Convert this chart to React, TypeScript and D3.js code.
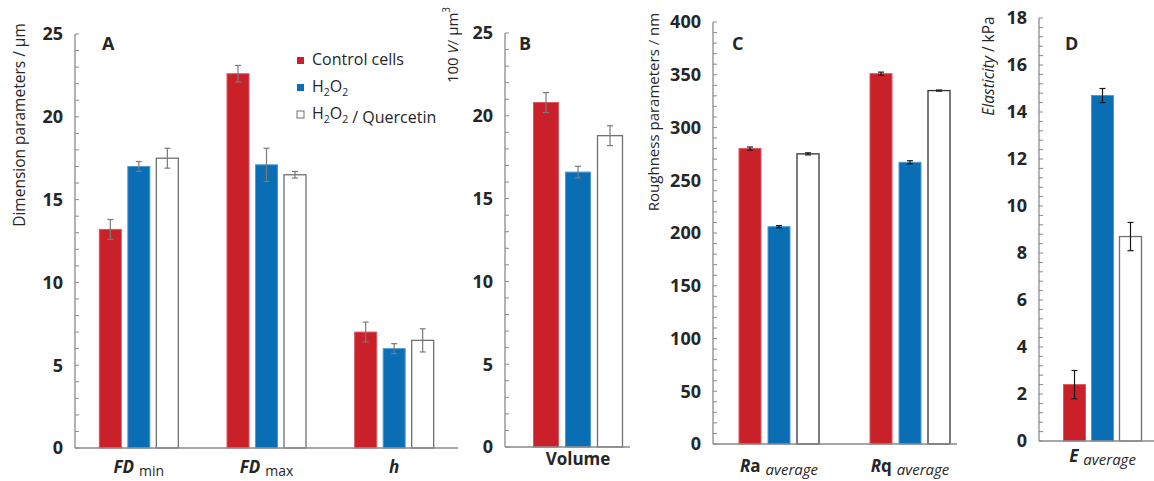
import * as d3 from 'd3';
import React from 'react';

// legend / series
const seriesNames = ['Control cells', 'H2O2', 'H2O2 / Quercetin'];

// A: dimension parameters (µm)
const dimensionCategories = ['FDmin', 'FDmax', 'h'];
const dimensionControl = [13.2, 22.6, 7.0];
const dimensionControlErr = [0.6, 0.5, 0.6];
const dimensionH2O2 = [17.0, 17.1, 6.0];
const dimensionH2O2Err = [0.3, 1.0, 0.3];
const dimensionQuercetin = [17.5, 16.5, 6.5];
const dimensionQuercetinErr = [0.6, 0.2, 0.7];
const dimensionTicks = [0, 5, 10, 15, 20, 25];

// B: volume (100 V / µm³)
const volumeCategories = ['Volume'];
const volumeControl = [20.8];
const volumeControlErr = [0.6];
const volumeH2O2 = [16.6];
const volumeH2O2Err = [0.35];
const volumeQuercetin = [18.8];
const volumeQuercetinErr = [0.6];
const volumeTicks = [0, 5, 10, 15, 20, 25];

// C: roughness parameters (nm)
const roughnessCategories = ['Ra', 'Rq'];
const roughnessControl = [280, 351];
const roughnessControlErr = [1.5, 1.5];
const roughnessH2O2 = [206, 267];
const roughnessH2O2Err = [1, 1.5];
const roughnessQuercetin = [275, 335];
const roughnessQuercetinErr = [1, 0.5];
const roughnessTicks = [0, 50, 100, 150, 200, 250, 300, 350, 400];

// D: elasticity (kPa)
const elasticityCategories = ['E'];
const elasticityControl = [2.4];
const elasticityControlErr = [0.6];
const elasticityH2O2 = [14.7];
const elasticityH2O2Err = [0.3];
const elasticityQuercetin = [8.7];
const elasticityQuercetinErr = [0.6];
const elasticityTicks = [0, 2, 4, 6, 8, 10, 12, 14, 16, 18];

const FONT = '"Open Sans", "DejaVu Sans", sans-serif';
const RED = '#c9202a';
const BLUE = '#0a6eb5';
const AXIS = '#8a8a8a';
const INK = '#262626';

const fills = [RED, BLUE, '#ffffff'];
const strokes = ['#d9575d', '#4f98cf', '#707070'];

type Panel = {
    categories: string[];
    values: number[][];
    errors: number[][];
    ticks: number[];
    axisX: number;
    axisEnd: number;
    yTop: number;
    yBottom: number;
    bandRange: [number, number];
    barW: number;
    gap: number;
    errColor: string;
    whiteStroke: string;
    letter: string;
    letterX: number;
    labelY: number;
    label: (cat: string) => React.ReactNode;
};

const subLabel = (main: string, sub: string, italicSub: boolean, mainItalicOnlyFirst = false) => (
    <>
        {mainItalicOnlyFirst ? (
            <>
                <tspan fontStyle="italic">{main[0]}</tspan>
                <tspan>{main.slice(1)}</tspan>
            </>
        ) : (
            <tspan fontStyle="italic">{main}</tspan>
        )}
        {sub && (
            <tspan
                dx={5}
                dy={3}
                fontSize={italicSub ? 15 : 14}
                fontWeight={400}
                fontStyle={italicSub ? 'italic' : 'normal'}
            >
                {sub}
            </tspan>
        )}
    </>
);

const panels: Panel[] = [
    {
        categories: dimensionCategories,
        values: [dimensionControl, dimensionH2O2, dimensionQuercetin],
        errors: [dimensionControlErr, dimensionH2O2Err, dimensionQuercetinErr],
        ticks: dimensionTicks,
        axisX: 75,
        axisEnd: 458,
        yTop: 34,
        yBottom: 448,
        bandRange: [75, 458],
        barW: 22,
        gap: 6.5,
        errColor: '#7a7a7a',
        whiteStroke: '#707070',
        letter: 'A',
        letterX: 102,
        labelY: 473,
        label: (c) =>
            c === 'FDmin'
                ? subLabel('FD', 'min', false)
                : c === 'FDmax'
                ? subLabel('FD', 'max', false)
                : subLabel('h', '', false),
    },
    {
        categories: volumeCategories,
        values: [volumeControl, volumeH2O2, volumeQuercetin],
        errors: [volumeControlErr, volumeH2O2Err, volumeQuercetinErr],
        ticks: volumeTicks,
        axisX: 505,
        axisEnd: 630,
        yTop: 33,
        yBottom: 447,
        bandRange: [505, 651],
        barW: 25,
        gap: 7,
        errColor: '#7a7a7a',
        whiteStroke: '#707070',
        letter: 'B',
        letterX: 519,
        labelY: 465,
        label: (c) => <tspan>{c}</tspan>,
    },
    {
        categories: roughnessCategories,
        values: [roughnessControl, roughnessH2O2, roughnessQuercetin],
        errors: [roughnessControlErr, roughnessH2O2Err, roughnessQuercetinErr],
        ticks: roughnessTicks,
        axisX: 713,
        axisEnd: 957,
        yTop: 22,
        yBottom: 444,
        bandRange: [713.5, 975.5],
        barW: 22,
        gap: 7,
        errColor: '#1a1a1a',
        whiteStroke: '#333333',
        letter: 'C',
        letterX: 732,
        labelY: 472,
        label: (c) => subLabel(c, 'average', true, true),
    },
    {
        categories: elasticityCategories,
        values: [elasticityControl, elasticityH2O2, elasticityQuercetin],
        errors: [elasticityControlErr, elasticityH2O2Err, elasticityQuercetinErr],
        ticks: elasticityTicks,
        axisX: 1039,
        axisEnd: 1154,
        yTop: 18,
        yBottom: 441,
        bandRange: [1039, 1166],
        barW: 22,
        gap: 6,
        errColor: '#1a1a1a',
        whiteStroke: '#707070',
        letter: 'D',
        letterX: 1065,
        labelY: 462,
        label: (c) => subLabel(c, 'average', true),
    },
];

const PanelView: React.FC<{ p: Panel }> = ({ p }) => {
    const max = p.ticks[p.ticks.length - 1];
    const step = p.ticks[1] - p.ticks[0];
    const y = d3.scaleLinear().domain([0, max]).range([p.yBottom, p.yTop]);
    const x0 = d3.scaleBand<string>().domain(p.categories).range(p.bandRange);
    const groupW = 3 * p.barW + 2 * p.gap;
    const x1 = d3
        .scaleBand<number>()
        .domain([0, 1, 2])
        .range([-groupW / 2, groupW / 2])
        .paddingInner(p.gap / (p.barW + p.gap));
    const minor = d3.range(0, max + step / 10, step / 5);

    return (
        <g>
            {/* bars */}
            {p.categories.map((cat, ci) => {
                const cx = (x0(cat) as number) + x0.bandwidth() / 2;
                return (
                    <g key={cat}>
                        {p.values.map((vals, si) => {
                            const bx = cx + (x1(si) as number);
                            const v = vals[ci];
                            const e = p.errors[si][ci];
                            const mid = bx + p.barW / 2;
                            return (
                                <g key={si}>
                                    <rect
                                        x={bx}
                                        y={y(v)}
                                        width={p.barW}
                                        height={y(0) - y(v)}
                                        fill={fills[si]}
                                        stroke={si === 2 ? p.whiteStroke : strokes[si]}
                                        strokeWidth={si === 2 ? 1.3 : 1}
                                    />
                                    <g stroke={p.errColor} strokeWidth={1.2}>
                                        <line x1={mid} x2={mid} y1={y(v - e)} y2={y(v + e)} />
                                        <line x1={mid - 3} x2={mid + 3} y1={y(v + e)} y2={y(v + e)} />
                                        <line x1={mid - 3} x2={mid + 3} y1={y(v - e)} y2={y(v - e)} />
                                    </g>
                                </g>
                            );
                        })}
                        <text
                            x={cx}
                            y={p.labelY}
                            textAnchor="middle"
                            fontFamily={FONT}
                            fontWeight={700}
                            fontSize={17}
                            fill={INK}
                        >
                            {p.label(cat)}
                        </text>
                    </g>
                );
            })}
            {/* axes */}
            <line x1={p.axisX} x2={p.axisX} y1={y(max)} y2={y(0)} stroke={AXIS} strokeWidth={1.3} />
            <line x1={p.axisX} x2={p.axisEnd} y1={y(0)} y2={y(0)} stroke={AXIS} strokeWidth={1.3} />
            {minor.map((t) => (
                <line
                    key={t}
                    x1={p.axisX}
                    x2={p.axisX + 4}
                    y1={y(t)}
                    y2={y(t)}
                    stroke={AXIS}
                    strokeWidth={1}
                />
            ))}
            {p.ticks.map((t) => (
                <text
                    key={t}
                    x={p.axisX - 12}
                    y={y(t)}
                    dy="0.35em"
                    textAnchor="end"
                    fontFamily={FONT}
                    fontWeight={700}
                    fontSize={18}
                    fill={INK}
                >
                    {t}
                </text>
            ))}
            <text
                x={p.letterX}
                y={50}
                fontFamily={FONT}
                fontWeight={700}
                fontSize={18}
                fill={INK}
            >
                {p.letter}
            </text>
        </g>
    );
};

const H2O2 = ({ size }: { size: number }) => (
    <>
        <tspan>H</tspan>
        <tspan fontSize={size * 0.65} dy={4}>2</tspan>
        <tspan dy={-4}>O</tspan>
        <tspan fontSize={size * 0.65} dy={4}>2</tspan>
        <tspan dy={-4}>{''}</tspan>
    </>
);

const App: React.FC = () => {
    const legendRows = [65, 92, 119];
    return (
        <div style={{ position: 'absolute', left: 0, top: 0 }}>
            <svg width={1154} height={481} style={{ display: 'block', background: '#fff' }}>
                {panels.map((p) => (
                    <PanelView key={p.letter} p={p} />
                ))}

                {/* y-axis titles */}
                <text
                    transform="translate(19,125) rotate(-90)"
                    textAnchor="middle"
                    dominantBaseline="central"
                    fontFamily={FONT}
                    fontSize={15.5}
                    fill={INK}
                >
                    Dimension parameters / µm
                </text>
                <text
                    transform="translate(452,45) rotate(-90)"
                    textAnchor="middle"
                    dominantBaseline="central"
                    fontFamily={FONT}
                    fontSize={15}
                    fill={INK}
                >
                    100 <tspan fontStyle="italic">V</tspan>/ µm<tspan fontSize={10} dy={-6}>3</tspan>
                </text>
                <text
                    transform="translate(653,112) rotate(-90)"
                    textAnchor="middle"
                    dominantBaseline="central"
                    fontFamily={FONT}
                    fontSize={15}
                    fill={INK}
                >
                    Roughness parameters / nm
                </text>
                <text
                    transform="translate(988,66) rotate(-90)"
                    textAnchor="middle"
                    dominantBaseline="central"
                    fontFamily={FONT}
                    fontSize={15.5}
                    fill={INK}
                >
                    <tspan fontStyle="italic">Elasticity</tspan> / kPa
                </text>

                {/* legend */}
                {seriesNames.map((name, i) => (
                    <g key={name}>
                        <rect
                            x={297}
                            y={legendRows[i] - 8}
                            width={7}
                            height={7}
                            fill={fills[i]}
                            stroke={i === 2 ? '#707070' : 'none'}
                            strokeWidth={1}
                        />
                        <text x={312} y={legendRows[i]} fontFamily={FONT} fontSize={16} fill={INK}>
                            {i === 0 ? (
                                name
                            ) : i === 1 ? (
                                <H2O2 size={16} />
                            ) : (
                                <>
                                    <H2O2 size={16} />
                                    <tspan> / Quercetin</tspan>
                                </>
                            )}
                        </text>
                    </g>
                ))}
            </svg>
        </div>
    );
};

export default App;
